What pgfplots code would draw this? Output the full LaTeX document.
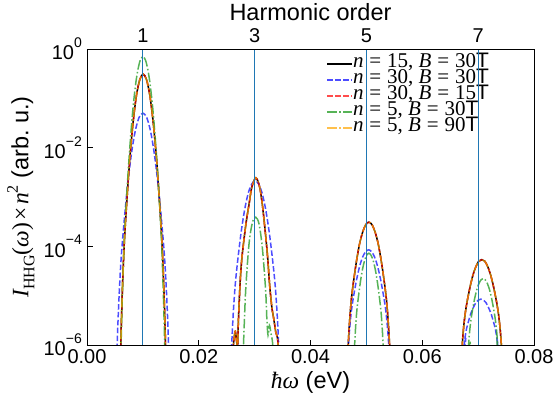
\documentclass[border=0pt]{standalone}
\usepackage{fontspec}
\setmainfont{Liberation Sans}
\newfontfamily\tms{Liberation Serif}
\usepackage{pgfplots}
\pgfplotsset{compat=1.18}
\usepackage{pgfplotstable}
\definecolor{cOne}{HTML}{1F77B4}
\definecolor{cGreen}{HTML}{2CA02C}
\definecolor{cOrange}{HTML}{FFA500}
\newcommand{\tp}[1]{10\raisebox{0.62em}{\fontsize{14}{14}\selectfont #1}}
\newcommand{\mi}[1]{{\tms\itshape #1}}
\newcommand{\mr}[1]{{\tms #1}}
\newcommand{\eq}{\hspace{0.28em}\mr{=}\hspace{0.28em}}
\newcommand{\leg}[3]{\mi{n}\eq\mr{#1,}\hspace{0.25em}\mi{B}\eq\mr{#2}#3}

% x = hbar omega (eV), ly = log10 of intensity
\pgfplotstableread{
x ly
0.0040 -12
0.00573 -7.92
0.00605 -6.00
0.00633 -4.90
0.00665 -3.99
0.00705 -3.22
0.00765 -2.24
0.00825 -1.49
0.00885 -0.94
0.00945 -0.62
0.01005 -0.51
0.01065 -0.62
0.01125 -0.94
0.01185 -1.49
0.01245 -2.24
0.01305 -3.22
0.01345 -3.99
0.01377 -4.90
0.01405 -6.00
0.01437 -7.92
0.0200 -12
0.0255 -9
0.0261 -6.3
0.02635 -5.85
0.02655 -5.72
0.0268 -5.95
0.02695 -6.05
0.0271 -5.5
0.0274 -4.75
0.02767 -4.3
0.0280 -3.95
0.0285 -3.5
0.0290 -3.15
0.0295 -2.80
0.03023 -2.61
0.0309 -2.80
0.0314 -3.17
0.0319 -3.7
0.03232 -4.21
0.0327 -4.8
0.0331 -5.25
0.0334 -5.45
0.0338 -5.75
0.0342 -6.0
0.0346 -7.5
0.0400 -12
0.04645 -6.87
0.04675 -6.00
0.04701 -5.50
0.0473 -5.09
0.04767 -4.74
0.04823 -4.30
0.04878 -3.95
0.04934 -3.71
0.04989 -3.56
0.05045 -3.51
0.05101 -3.56
0.05156 -3.71
0.05212 -3.95
0.05267 -4.30
0.05323 -4.74
0.0536 -5.09
0.05389 -5.50
0.05415 -6.00
0.05445 -6.87
0.0600 -12
0.06688 -6.61
0.06716 -6.00
0.0674 -5.65
0.06768 -5.37
0.06803 -5.12
0.06856 -4.82
0.06908 -4.58
0.06961 -4.41
0.07013 -4.30
0.07066 -4.27
0.07119 -4.30
0.07171 -4.41
0.07224 -4.58
0.07276 -4.82
0.07329 -5.12
0.07364 -5.37
0.07392 -5.65
0.07416 -6.00
0.07444 -6.61
0.0780 -12
}\blackdata

\pgfplotstableread{
x ly
0.0030 -12
0.00503 -7.65
0.0054 -6.00
0.00572 -5.06
0.00609 -4.28
0.00655 -3.62
0.00724 -2.79
0.00793 -2.14
0.00862 -1.67
0.00931 -1.39
0.0100 -1.30
0.01069 -1.39
0.01138 -1.67
0.01207 -2.14
0.01276 -2.79
0.01345 -3.62
0.01391 -4.28
0.01428 -5.06
0.0146 -6.00
0.01497 -7.65
0.0200 -12
0.02556 -7.17
0.0259 -6.00
0.02619 -5.33
0.02653 -4.78
0.02695 -4.31
0.02758 -3.72
0.02821 -3.26
0.02884 -2.93
0.02947 -2.74
0.0301 -2.67
0.03073 -2.74
0.03136 -2.93
0.03199 -3.26
0.03262 -3.72
0.03325 -4.31
0.03367 -4.78
0.03401 -5.33
0.0343 -6.00
0.03464 -7.17
0.0400 -12
0.04651 -6.68
0.0468 -6.00
0.04705 -5.61
0.04734 -5.29
0.0477 -5.02
0.04824 -4.68
0.04878 -4.41
0.04932 -4.22
0.04986 -4.11
0.0504 -4.07
0.05094 -4.11
0.05148 -4.22
0.05202 -4.41
0.05256 -4.68
0.0531 -5.02
0.05346 -5.29
0.05375 -5.61
0.054 -6.00
0.05429 -6.68
0.0600 -12
0.06726 -6.33
0.0675 -6.00
0.06771 -5.81
0.06795 -5.66
0.06825 -5.53
0.0687 -5.36
0.06915 -5.24
0.0696 -5.14
0.07005 -5.09
0.0705 -5.07
0.07095 -5.09
0.0714 -5.14
0.07185 -5.24
0.0723 -5.36
0.07275 -5.53
0.07305 -5.66
0.07329 -5.81
0.0735 -6.00
0.07374 -6.33
0.0780 -12
}\bluedata

\pgfplotstableread{
x ly
0.0040 -12
0.00579 -8.05
0.0061 -6.00
0.00637 -4.83
0.00668 -3.86
0.00707 -3.03
0.00766 -2.00
0.00824 -1.19
0.00883 -0.61
0.00941 -0.27
0.0100 -0.15
0.01059 -0.27
0.01117 -0.61
0.01176 -1.19
0.01234 -2.00
0.01293 -3.03
0.01332 -3.86
0.01363 -4.83
0.0139 -6.00
0.01421 -8.05
0.0200 -12
0.0276 -7
0.0280 -6.0
0.0284 -4.89
0.0290 -3.95
0.0296 -3.52
0.0302 -3.41
0.0308 -3.55
0.0314 -4.05
0.03197 -4.89
0.0322 -5.5
0.0324 -5.8
0.03265 -5.6
0.0329 -5.75
0.0333 -6.1
0.0336 -7.5
0.0400 -12
0.0477 -6.65
0.0479 -6.00
0.04808 -5.63
0.04828 -5.32
0.04854 -5.06
0.04892 -4.73
0.0493 -4.47
0.04968 -4.29
0.05007 -4.18
0.05045 -4.14
0.05083 -4.18
0.05122 -4.29
0.0516 -4.47
0.05198 -4.73
0.05236 -5.06
0.05262 -5.32
0.05282 -5.63
0.053 -6.00
0.0532 -6.65
0.0600 -12
0.06809 -6.47
0.0683 -6.00
0.06848 -5.73
0.06869 -5.51
0.06895 -5.32
0.06934 -5.08
0.06973 -4.89
0.07012 -4.76
0.07051 -4.68
0.0709 -4.65
0.07129 -4.68
0.07168 -4.76
0.07207 -4.89
0.07246 -5.08
0.07285 -5.32
0.07311 -5.51
0.07332 -5.73
0.0735 -6.00
0.07371 -6.47
0.0780 -12
}\greendata

\begin{document}
\begin{tikzpicture}
\useasboundingbox (0,0) rectangle (560pt,401pt);
\begin{axis}[
  at={(87pt,56pt)}, anchor=south west,
  scale only axis, width=447pt, height=296pt,
  xmin=0, xmax=0.08, ymin=1e-6, ymax=1, ymode=log,
  scaled x ticks=false,
  xtick={0,0.02,0.04,0.06,0.08},
  xticklabels={0.00,0.02,0.04,0.06,0.08},
  ytick={1e-6,1e-4,1e-2,1},
  yticklabels={\tp{−6},\tp{−4},\tp{−2},\tp{0}},
  yminorticks=false,
  tick align=inside, tick pos=left,
  major tick length=5.5pt,
  tick style={black, line width=0.9pt},
  axis line style={line width=0.9pt},
  tick label style={font=\fontsize{20}{20}\selectfont},
  xticklabel style={anchor=north, inner sep=0pt, yshift=-4pt},
  yticklabel style={anchor=east, inner sep=0pt, xshift=-5pt},
  label style={font=\fontsize{23.5}{23.5}\selectfont},
  xlabel={\mi{ħω} (eV)},
  xlabel style={at={(axis description cs:0.5,-0.128)}, anchor=center},
  ylabel={\mi{I}\raisebox{-0.25em}{\fontsize{16}{16}\selectfont\mr{HHG}}\mr{(}\mi{ω}\mr{)}\hspace{0.1em}\mr{×}\hspace{0.1em}\mi{n}\raisebox{0.45em}{\fontsize{16}{16}\selectfont\mr{2}} (arb.\ u.)},
  ylabel style={at={(axis description cs:-0.148,0.5)}, anchor=center},
  legend style={at={(axis description cs:0.536,0.977)}, anchor=north west,
    draw=none, fill=none, inner sep=0pt, outer sep=0pt, row sep=0pt,
    font=\fontsize{21}{21}\selectfont,
    nodes={inner sep=0pt, text height=12pt, text depth=4pt}},
  legend cell align=left,
  legend image code/.code={\draw[#1] (0pt,0pt) -- (25pt,0pt);},
]
\addplot[black, line width=1.5pt, smooth] table[x=x, y expr={10^(\thisrow{ly})}] {\blackdata};
\addlegendentry{\leg{15}{30}{T}}
\addplot[blue, draw opacity=0.7, line width=1.5pt, smooth, dash pattern=on 5.5pt off 2.4pt] table[x=x, y expr={10^(\thisrow{ly})}] {\bluedata};
\addlegendentry{\leg{30}{30}{T}}
\addplot[red, draw opacity=0.7, line width=1.5pt, smooth, dash pattern=on 5.5pt off 2.4pt] table[x=x, y expr={10^(\thisrow{ly})}] {\blackdata};
\addlegendentry{\leg{30}{15}{T}}
\addplot[cGreen, draw opacity=0.8, line width=1.5pt, smooth, dash pattern=on 9.6pt off 2.4pt on 1.5pt off 2.4pt] table[x=x, y expr={10^(\thisrow{ly})}] {\greendata};
\addlegendentry{\leg{5}{30}{T}}
\addplot[cOrange, draw opacity=0.7, line width=1.5pt, smooth, dash pattern=on 9.6pt off 2.4pt on 1.5pt off 2.4pt] table[x=x, y expr={10^(\thisrow{ly})}] {\blackdata};
\addlegendentry{\leg{5}{90}{T}}
\end{axis}
\begin{axis}[
  at={(87pt,56pt)}, anchor=south west,
  scale only axis, width=447pt, height=296pt,
  xmin=0, xmax=0.08, ymin=0, ymax=1,
  scaled x ticks=false,
  ytick=\empty,
  xtick={0.01,0.03,0.05,0.07}, xticklabels={1,3,5,7},
  xticklabel pos=upper,
  xmajorgrids, grid style={cOne, line width=0.9pt},
  major tick length=0pt,
  axis line style={line width=0.9pt},
  tick label style={font=\fontsize{20}{20}\selectfont},
  xticklabel style={anchor=south, inner sep=0pt, yshift=6pt},
  label style={font=\fontsize{23.5}{23.5}\selectfont},
  xlabel={Harmonic order},
  xlabel style={at={(axis description cs:0.5,1.124)}, anchor=center},
]
\end{axis}
\end{tikzpicture}
\end{document}
